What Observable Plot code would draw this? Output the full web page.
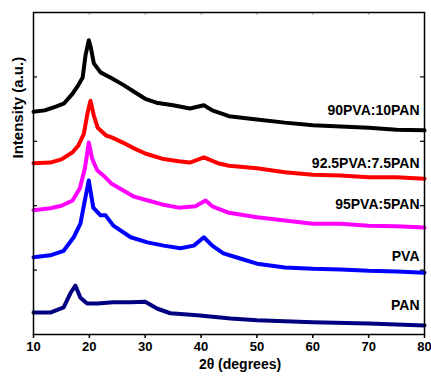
<!DOCTYPE html>
<html><head><meta charset="utf-8">
<script src="https://cdn.jsdelivr.net/npm/d3@7"></script>
<script src="https://cdn.jsdelivr.net/npm/@observablehq/plot@0.6"></script>
<style>body{margin:0;background:#fff}</style>
</head><body><div id="chart"></div>
<script>
const series = ["90PVA:10PAN", "92.5PVA:7.5PAN", "95PVA:5PAN", "PVA", "PAN"];
const colors = ["#000000", "#ff0000", "#ff00ff", "#0000ff", "#000080"];

const x90 = [10, 12, 14, 15.5, 17, 18, 18.8, 19.3, 19.9, 20.3, 20.8, 22, 24, 26, 28, 30, 32, 35, 38, 40.5, 42, 45, 50, 55, 60, 65, 70, 75, 80];
const y90 = [3.46, 3.48, 3.54, 3.59, 3.74, 3.87, 3.99, 4.33, 4.57, 4.44, 4.21, 4.07, 3.98, 3.88, 3.77, 3.66, 3.60, 3.56, 3.51, 3.56, 3.48, 3.39, 3.34, 3.29, 3.25, 3.23, 3.21, 3.18, 3.17];

const x925 = [10, 13, 15, 17, 18, 19, 19.7, 20.2, 20.8, 21.5, 23, 24, 26, 28, 30, 33, 36, 38, 40.5, 43, 45, 50, 55, 60, 65, 70, 75, 80];
const y925 = [2.66, 2.67, 2.72, 2.83, 2.93, 3.11, 3.45, 3.63, 3.40, 3.21, 3.09, 3.06, 2.98, 2.89, 2.81, 2.73, 2.69, 2.67, 2.75, 2.66, 2.62, 2.58, 2.52, 2.48, 2.47, 2.44, 2.44, 2.42];

const x95 = [10, 13, 15, 17, 18.3, 19.2, 19.9, 20.5, 21.4, 22.5, 24, 26, 28, 30.5, 33, 36, 39, 40.8, 42, 45, 50, 55, 60, 65, 70, 75, 80];
const y95 = [1.93, 1.96, 2.00, 2.08, 2.27, 2.58, 2.98, 2.73, 2.55, 2.47, 2.34, 2.24, 2.14, 2.08, 2.02, 1.97, 1.99, 2.08, 1.99, 1.89, 1.82, 1.77, 1.72, 1.72, 1.69, 1.68, 1.66];

const xPVA = [10, 13, 15.4, 17.2, 18.4, 19.3, 19.9, 20.7, 22, 22.9, 24.3, 27.4, 30.4, 33.3, 36.3, 38.7, 40.5, 42, 44, 47, 50, 55, 60, 65, 70, 75, 80];
const yPVA = [1.20, 1.23, 1.30, 1.51, 1.72, 2.13, 2.39, 1.97, 1.85, 1.85, 1.69, 1.51, 1.43, 1.38, 1.34, 1.38, 1.51, 1.38, 1.26, 1.18, 1.10, 1.04, 1.02, 1.01, 0.99, 0.98, 0.96];

const xPAN = [10, 13, 15.4, 16.6, 17.5, 18.4, 19.6, 21.4, 24.3, 27.4, 30, 32.2, 34.5, 39.3, 45.3, 50, 60, 70, 80];
const yPAN = [0.34, 0.34, 0.42, 0.64, 0.76, 0.57, 0.48, 0.48, 0.50, 0.50, 0.51, 0.40, 0.33, 0.30, 0.25, 0.22, 0.19, 0.17, 0.14];

const labelY = [3.48, 2.66, 2.02, 1.21, 0.45];
const xTicks = [10, 20, 30, 40, 50, 60, 70, 80];
const yTicks = [1, 2, 3, 4];
const xLabel = "2θ (degrees)";
const yLabel = "Intensity (a.u.)";

const xs = [x90, x925, x95, xPVA, xPAN];
const ys = [y90, y925, y95, yPVA, yPAN];
const rows = series.flatMap((s, i) => xs[i].map((x, j) => ({series: s, x, y: ys[i][j]})));
const labels = series.map((s, i) => ({series: s, y: labelY[i]}));

const W = 431, H = 377, ML = 33, MR = 7, MT = 12, MB = 43;
const innerW = W - ML - MR, innerH = H - MT - MB;

const chart = Plot.plot({
  width: W, height: H,
  marginLeft: ML, marginRight: MR, marginTop: MT, marginBottom: MB,
  style: {fontFamily: "'Liberation Sans', Arial, sans-serif", fontWeight: "bold", color: "black", background: "white"},
  x: {domain: [10, 80]},
  y: {domain: [0, 5], axis: null},
  color: {domain: series, range: colors},
  marks: [
    Plot.line(rows, {x: "x", y: "y", z: "series", stroke: "series", strokeWidth: 4, strokeLinejoin: "round", curve: "linear"}),
    Plot.tickY(yTicks, {y: d => d, insetRight: innerW - 4, stroke: "black", strokeWidth: 1.2}),
    Plot.tickY(yTicks, {y: d => d, insetLeft: innerW - 4, stroke: "black", strokeWidth: 1.2}),
    Plot.tickX(xTicks.slice(1, -1), {x: d => d, insetBottom: innerH - 3, stroke: "#aaa", strokeWidth: 1}),
    Plot.frame({stroke: "black", strokeWidth: 1.5}),
    Plot.axisX({ticks: xTicks, tickSize: 4, tickPadding: 3, fontSize: 13, fontWeight: "bold", label: null, strokeWidth: 1.5, style: {letterSpacing: "-0.5px"}}),
    Plot.text(labels, {x: 80, y: "y", text: "series", textAnchor: "end", dx: -5, fontSize: 14, fontWeight: "bold", fill: "black", style: {letterSpacing: "-0.3px"}}),
    Plot.text([xLabel], {frameAnchor: "bottom", lineAnchor: "top", dx: 11, dy: 25, fontSize: 14, fontWeight: "bold", fill: "black"}),
    Plot.text([yLabel], {frameAnchor: "left", rotate: -90, dx: -15, dy: -15, fontSize: 15, fontWeight: "bold", fill: "black"})
  ]
});
document.getElementById("chart").appendChild(chart);
</script>
</body></html>
